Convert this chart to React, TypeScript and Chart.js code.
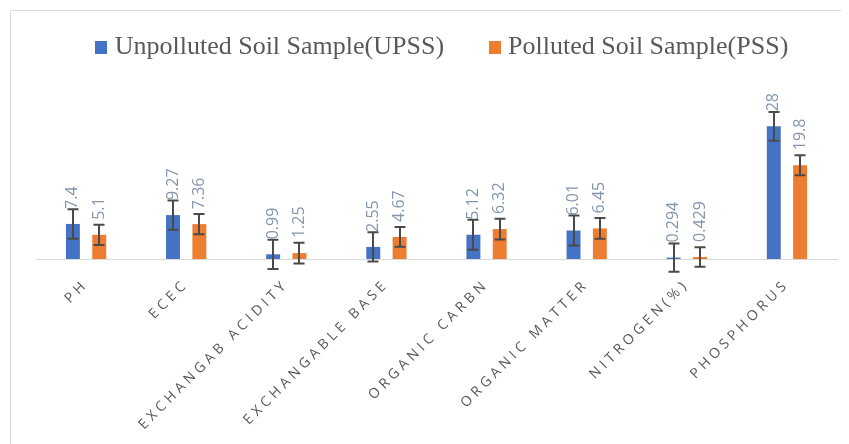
import React, { useEffect, useRef } from "react";
import { Chart, registerables } from "chart.js";

Chart.register(...registerables);

const CATEGORIES = [
  "PH",
  "ECEC",
  "EXCHANGAB ACIDITY",
  "EXCHANGABLE BASE",
  "ORGANIC CARBN",
  "ORGANIC MATTER",
  "NITROGEN(%)",
  "PHOSPHORUS",
];
const SERIES_NAMES = ["Unpolluted Soil Sample(UPSS)", "Polluted Soil Sample(PSS)"];
const SERIES_COLORS = ["#4472C4", "#ED7D31"];
const UPSS = [7.4, 9.27, 0.99, 2.55, 5.12, 6.01, 0.294, 28];
const PSS = [5.1, 7.36, 1.25, 4.67, 6.32, 6.45, 0.429, 19.8];
const UPSS_ERR = [3.1, 3.1, 3.1, 3.1, 3.15, 3.15, 3.0, 3.05];
const PSS_ERR = [2.15, 2.15, 2.2, 2.1, 2.2, 2.2, 2.05, 2.1];

const W = 841;
const H = 436;

function makeSwatch(color: string) {
  const c = document.createElement("canvas");
  c.width = 12;
  c.height = 13;
  const g = c.getContext("2d")!;
  g.fillStyle = color;
  g.fillRect(0, 0, 12, 13);
  return c;
}

const decorPlugin = {
  id: "decor",
  afterLayout(chart: any) {
    if (chart.legend) {
      chart.legend.left += 8;
      chart.legend.right += 8;
    }
  },
  beforeDraw(chart: any) {
    const ctx = chart.ctx;
    ctx.save();
    ctx.strokeStyle = "#d9d9d9";
    ctx.lineWidth = 1;
    ctx.beginPath();
    ctx.moveTo(2.5, H);
    ctx.lineTo(2.5, 2.5);
    ctx.lineTo(W, 2.5);
    ctx.stroke();
    ctx.restore();
  },
  afterDatasetsDraw(chart: any) {
    const ctx = chart.ctx;
    const yScale = chart.scales.y;
    ctx.save();
    // value labels
    chart.data.datasets.forEach((ds: any, di: number) => {
      const meta = chart.getDatasetMeta(di);
      meta.data.forEach((bar: any, i: number) => {
        const v = ds.data[i];
        ctx.save();
        ctx.translate(bar.x, bar.y - 15);
        ctx.rotate(-Math.PI / 2);
        ctx.font = '16px "Open Sans"';
        ctx.fillStyle = "#8496ae";
        ctx.textAlign = "left";
        ctx.textBaseline = "middle";
        ctx.fillText(String(v), 0, 0);
        ctx.restore();
      });
    });
    // error bars
    chart.data.datasets.forEach((ds: any, di: number) => {
      const meta = chart.getDatasetMeta(di);
      const errs = ds.errors as number[];
      meta.data.forEach((bar: any, i: number) => {
        const v = ds.data[i];
        const e = errs[i];
        const x = Math.round(bar.x);
        const yHi = yScale.getPixelForValue(v + e);
        const yLo = yScale.getPixelForValue(v - e);
        ctx.strokeStyle = "#4a4a4a";
        ctx.lineWidth = 2;
        ctx.beginPath();
        ctx.moveTo(x, yHi);
        ctx.lineTo(x, yLo);
        ctx.moveTo(x - 5.5, yHi);
        ctx.lineTo(x + 5.5, yHi);
        ctx.moveTo(x - 5.5, yLo);
        ctx.lineTo(x + 5.5, yLo);
        ctx.stroke();
      });
    });
    ctx.restore();
    // letter spacing for the x tick labels drawn after datasets
    (ctx as any).letterSpacing = "4px";
  },
  afterDraw(chart: any) {
    (chart.ctx as any).letterSpacing = "0px";
  },
};

export default function App() {
  const ref = useRef<HTMLCanvasElement>(null);
  useEffect(() => {
    if (!ref.current) return;
    const swatches = SERIES_COLORS.map(makeSwatch);
    const chart = new Chart(ref.current, {
      type: "bar",
      data: {
        labels: CATEGORIES,
        datasets: [
          {
            label: SERIES_NAMES[0],
            data: UPSS,
            errors: UPSS_ERR,
            backgroundColor: SERIES_COLORS[0],
            borderWidth: 0,
            categoryPercentage: 0.526,
            barPercentage: 0.53,
          } as any,
          {
            label: SERIES_NAMES[1],
            data: PSS,
            errors: PSS_ERR,
            backgroundColor: SERIES_COLORS[1],
            borderWidth: 0,
            categoryPercentage: 0.526,
            barPercentage: 0.53,
          } as any,
        ],
      },
      options: {
        responsive: false,
        animation: false,
        layout: { padding: { top: -24, left: 28, right: 12, bottom: 0 } },
        plugins: {
          legend: {
            position: "top",
            labels: {
              font: { family: '"Liberation Serif", "Times New Roman", serif', size: 26 },
              color: "#595959",
              usePointStyle: true,
              boxWidth: 1,
              boxHeight: 13,
              padding: 50,
              generateLabels: (chart: any) => {
                const items = Chart.defaults.plugins.legend.labels.generateLabels(chart);
                return items.map((it: any, i: number) => ({
                  ...it,
                  pointStyle: swatches[i],
                  lineWidth: 0,
                }));
              },
            },
          },
          tooltip: { enabled: false },
        },
        scales: {
          x: {
            grid: { display: false, drawTicks: false },
            border: { display: true, color: "#d9d9d9", width: 1 },
            ticks: {
              autoSkip: false,
              minRotation: 45,
              maxRotation: 45,
              padding: 17,
              color: "#595959",
              font: { family: '"Open Sans"', size: 14 },
              z: 1,
            },
            afterFit: (s: any) => {
              s.height = H - 251;
            },
          },
          y: { display: false, min: 0, max: 39.9 },
        },
      },
      plugins: [decorPlugin],
    });
    return () => chart.destroy();
  }, []);
  return (
    <div style={{ width: W, height: H }}>
      <canvas ref={ref} width={W} height={H} style={{ display: "block" }} />
    </div>
  );
}
